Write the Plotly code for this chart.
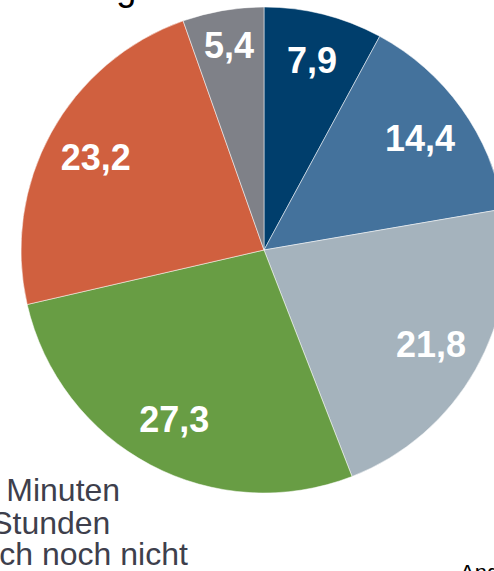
import plotly.graph_objects as go

categories = ["Kategorie 1", "Kategorie 2", "Kategorie 3", "Kategorie 4", "Kategorie 5", "Kategorie 6"]
values = [7.9, 14.4, 21.8, 27.3, 23.2, 5.4]
colors = ["#003E6C", "#44729C", "#A5B3BD", "#689D44", "#D0603F", "#7F8188"]
legend_lines = ["bis 30 Minuten", "1 bis 2 Stunden", "nutze ich noch nicht"]
title_text = "Tägliche Nutzung"
note_text = "Angaben in Prozent"

value_text = [f"{v:.1f}".replace(".", ",") for v in values]

W, H = 520, 571
cx, cy, r = 264, 250, 243
dom_x = [(cx - r) / W, (cx + r) / W]
dom_y = [1 - (cy + r) / H, 1 - (cy - r) / H]

fig = go.Figure()
fig.add_trace(go.Pie(
    labels=categories, values=values, sort=False, direction="clockwise",
    marker=dict(colors=colors, line=dict(color="rgba(255,255,255,0.5)", width=1)),
    textinfo="none", domain=dict(x=dom_x, y=dom_y), showlegend=False, hoverinfo="skip",
))
fig.add_trace(go.Pie(
    labels=categories, values=values, sort=False, direction="clockwise", hole=0.58,
    marker=dict(colors=["rgba(0,0,0,0)"] * len(values), line=dict(width=0)),
    text=value_text, textinfo="text", textposition="inside",
    insidetextorientation="horizontal",
    textfont=dict(family="Liberation Sans, Arial", size=36, color="white", weight="bold"),
    domain=dict(x=dom_x, y=dom_y), showlegend=False, hoverinfo="skip",
))

# Cropped title at top
fig.add_annotation(text=title_text, xref="paper", yref="paper", x=138 / W, y=1 - 10.5 / H,
                   xanchor="right", yanchor="bottom", showarrow=False,
                   font=dict(family="Liberation Sans, Arial", size=36, color="black"))
# Cropped legend lines bottom-left
rights = [122, 112, 190]
baselines = [502, 535, 566]
for t, rx, by in zip(legend_lines, rights, baselines):
    fig.add_annotation(text=t, xref="paper", yref="paper", x=rx / W, y=1 - (by + 8) / H,
                       xanchor="right", yanchor="bottom", showarrow=False,
                       font=dict(family="Liberation Sans, Arial", size=32, color="#3E3F4C"))
# Cropped note bottom-right
fig.add_annotation(text=note_text, xref="paper", yref="paper", x=458 / W, y=1 - 558 / H,
                   xanchor="left", yanchor="top", showarrow=False,
                   font=dict(family="Liberation Sans, Arial", size=22, color="black"))

fig.update_layout(width=W, height=H, autosize=False, margin=dict(l=0, r=0, t=0, b=0),
                  paper_bgcolor="white", plot_bgcolor="white")
fig.write_html(
    "out.html",
    config={"displayModeBar": False},
    post_script="document.body.style.margin='0';document.body.style.overflow='hidden';"
                "document.documentElement.style.overflow='hidden';",
)
